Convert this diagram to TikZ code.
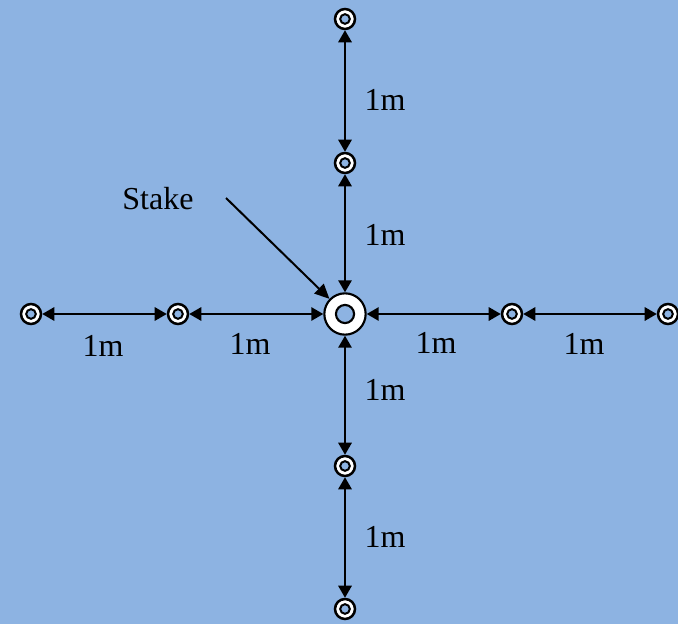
\documentclass[tikz,border=0pt]{standalone}
\usepackage{fontspec}
\setmainfont{Liberation Serif}
\usepackage{tikz}
\usetikzlibrary{arrows.meta, positioning}
\definecolor{skyblue}{RGB}{141,179,226}

\tikzset{
  peg/.style={circle, draw=black, line width=1.9pt, fill=white, minimum size=15pt, inner sep=0pt,
    path picture={\draw[line width=1.5pt, fill=skyblue] (path picture bounding box.center) circle (3.6pt);}},
  stake/.style={circle, draw=black, line width=1.6pt, fill=white, minimum size=31pt, inner sep=0pt,
    path picture={\draw[line width=1.6pt, fill=skyblue] (path picture bounding box.center) circle (6.8pt);}},
  measure/.style={line width=1.5pt, {Triangle[length=9pt,width=10pt]}-{Triangle[length=9pt,width=10pt]}},
  dist/.style={font=\fontsize{24}{28}\selectfont}
}

\begin{document}
\begin{tikzpicture}[x=0.75pt, y=-0.75pt]
  \fill[skyblue] (0,0) rectangle (678,624);
  \useasboundingbox (0,0) rectangle (678,624);

  % stake and pegs
  \node[stake] (s) at (345,314) {};
  \node[peg] (n1) at (345,19) {};
  \node[peg] (n2) at (345,163) {};
  \node[peg] (s1) at (345,466) {};
  \node[peg] (s2) at (345,609) {};
  \node[peg] (w2) at (31,314) {};
  \node[peg] (w1) at (178,314) {};
  \node[peg] (e1) at (512,314) {};
  \node[peg] (e2) at (668,314) {};

  % measurements
  \draw[measure] (n1) -- (n2);
  \draw[measure] (n2) -- (s);
  \draw[measure] (s) -- (s1);
  \draw[measure] (s1) -- (s2);
  \draw[measure] (w2) -- (w1);
  \draw[measure] (w1) -- (s);
  \draw[measure] (s) -- (e1);
  \draw[measure] (e1) -- (e2);

  \node[dist] (ln1) at (385,100) {1m};
  \node[dist] (ln2) at (385,235) {1m};
  \node[dist] (ls1) at (385,390) {1m};
  \node[dist] (ls2) at (385,537) {1m};
  \node[dist] (lw2) at (103,346) {1m};
  \node[dist] (lw1) at (250,344) {1m};
  \node[dist] (le1) at (436,343) {1m};
  \node[dist] (le2) at (584,344) {1m};

  % label for the stake
  \node[dist] (lbl) at (158,199) {Stake};
  \coordinate (tail) at (226,198);
  \draw[line width=1.5pt, -{Triangle[length=11pt,width=10pt]}] (tail) -- (s);
\end{tikzpicture}
\end{document}
